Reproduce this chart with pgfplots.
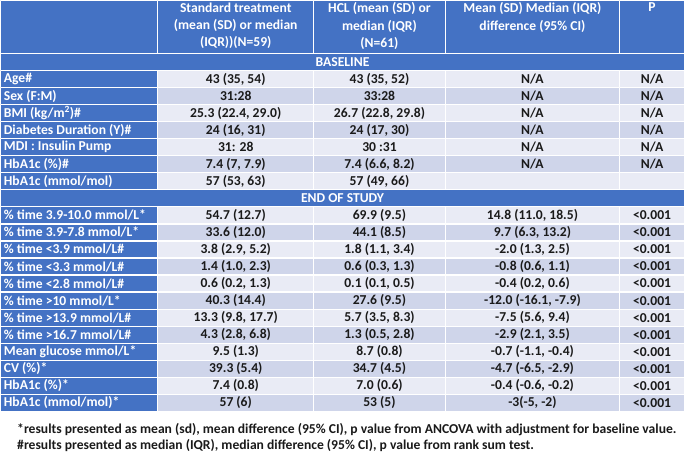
\documentclass[border=0pt]{standalone}
\usepackage{fontspec}
\setmainfont{Carlito}
\usepackage{pgfplots}
\pgfplotsset{compat=1.18}
\definecolor{hblue}{HTML}{4472C4}
\definecolor{rowA}{HTML}{E9EBF5}
\definecolor{rowB}{HTML}{CFD5EA}
\definecolor{txt}{HTML}{1A1A1A}
\tikzset{tc/.style={font=\fontsize{13.3}{16.8}\selectfont\bfseries,inner sep=0pt}}
\newcommand\rect[5]{\addplot[fill=#5,draw=white,line width=1.2bp,mark=none] coordinates {(#1,#3) (#2,#3) (#2,#4) (#1,#4) (#1,#3)};}
% \drow{top}{bottom}{fill}{label}{std}{hcl}{diff}{p}
\newcommand\drow[8]{%
  \rect{4}{157}{#1}{#2}{hblue}
  \rect{157}{309}{#1}{#2}{#3}
  \rect{309}{437}{#1}{#2}{#3}
  \rect{437}{607}{#1}{#2}{#3}
  \rect{607}{670}{#1}{#2}{#3}
  \node[tc,anchor=west,text=white] at (axis cs:7,{(#1+#2)/2}) {#4};
  \node[tc,text=txt] at (axis cs:233,{(#1+#2)/2}) {#5};
  \node[tc,text=txt] at (axis cs:373,{(#1+#2)/2}) {#6};
  \node[tc,text=txt] at (axis cs:522,{(#1+#2)/2}) {#7};
  \node[tc,text=txt] at (axis cs:638.5,{(#1+#2)/2}) {#8};
}
\newcommand\srow[3]{%
  \rect{4}{670}{#1}{#2}{hblue}
  \node[tc,text=white] at (axis cs:337,{(#1+#2)/2}) {#3};
}
\begin{document}
\begin{tikzpicture}
\begin{axis}[width=685bp,height=446bp,scale only axis,hide axis,
  xmin=0,xmax=685,ymin=0,ymax=446,y dir=reverse,clip=false]
% header
\rect{4}{157}{4}{55.5}{hblue}
\rect{157}{309}{4}{55.5}{hblue}
\rect{309}{437}{4}{55.5}{hblue}
\rect{437}{607}{4}{55.5}{hblue}
\rect{607}{670}{4}{55.5}{hblue}
\node[tc,anchor=north,align=center,text=white] at (axis cs:233,6) {Standard treatment\\(mean (SD) or median\\(IQR))(N=59)};
\node[tc,anchor=north,align=center,text=white] at (axis cs:373,6) {HCL (mean (SD) or\\median (IQR)\\(N=61)};
\node[tc,anchor=north,align=center,text=white] at (axis cs:522,6) {Mean (SD) Median (IQR)\\difference (95\% CI)};
\node[tc,anchor=north,align=center,text=white] at (axis cs:638.5,6) {P};
\srow{55.5}{72.1}{BASELINE}
\drow{72.1}{88.7}{rowA}{Age\#}{43 (35, 54)}{43 (35, 52)}{N/A}{N/A}
\drow{88.7}{105.3}{rowB}{Sex (F:M)}{31:28}{33:28}{N/A}{N/A}
\drow{105.3}{121.9}{rowA}{BMI (kg/m\textsuperscript{2})\#}{25.3 (22.4, 29.0)}{26.7 (22.8, 29.8)}{N/A}{N/A}
\drow{121.9}{138.5}{rowB}{Diabetes Duration (Y)\#}{24 (16, 31)}{24 (17, 30)}{N/A}{N/A}
\drow{138.5}{155.1}{rowA}{MDI : Insulin Pump}{31: 28}{30 :31}{N/A}{N/A}
\drow{155.1}{171.7}{rowB}{HbA1c (\%)\#}{7.4 (7, 7.9)}{7.4 (6.6, 8.2)}{N/A}{N/A}
\drow{171.7}{188.3}{rowA}{HbA1c (mmol/mol)}{57 (53, 63)}{57 (49, 66)}{}{}
\srow{188.3}{204.9}{END OF STUDY}
\drow{204.9}{221.5}{rowA}{\% time 3.9-10.0 mmol/L*}{54.7 (12.7)}{69.9 (9.5)}{14.8 (11.0, 18.5)}{<0.001}
\drow{221.5}{238.1}{rowB}{\% time 3.9-7.8 mmol/L*}{33.6 (12.0)}{44.1 (8.5)}{9.7 (6.3, 13.2)}{<0.001}
\drow{238.1}{254.7}{rowA}{\% time <3.9 mmol/L\#}{3.8 (2.9, 5.2)}{1.8 (1.1, 3.4)}{-2.0 (1.3, 2.5)}{<0.001}
\drow{254.7}{271.3}{rowB}{\% time <3.3 mmol/L\#}{1.4 (1.0, 2.3)}{0.6 (0.3, 1.3)}{-0.8 (0.6, 1.1)}{<0.001}
\drow{271.3}{287.9}{rowA}{\% time <2.8 mmol/L\#}{0.6 (0.2, 1.3)}{0.1 (0.1, 0.5)}{-0.4 (0.2, 0.6)}{<0.001}
\drow{287.9}{304.5}{rowB}{\% time >10 mmol/L*}{40.3 (14.4)}{27.6 (9.5)}{-12.0 (-16.1, -7.9)}{<0.001}
\drow{304.5}{321.1}{rowA}{\% time >13.9 mmol/L\#}{13.3 (9.8, 17.7)}{5.7 (3.5, 8.3)}{-7.5 (5.6, 9.4)}{<0.001}
\drow{321.1}{337.7}{rowB}{\% time >16.7 mmol/L\#}{4.3 (2.8, 6.8)}{1.3 (0.5, 2.8)}{-2.9 (2.1, 3.5)}{<0.001}
\drow{337.7}{354.3}{rowA}{Mean glucose mmol/L*}{9.5 (1.3)}{8.7 (0.8)}{-0.7 (-1.1, -0.4)}{<0.001}
\drow{354.3}{370.9}{rowB}{CV (\%)*}{39.3 (5.4)}{34.7 (4.5)}{-4.7 (-6.5, -2.9)}{<0.001}
\drow{370.9}{387.5}{rowA}{HbA1c (\%)*}{7.4 (0.8)}{7.0 (0.6)}{-0.4 (-0.6, -0.2)}{<0.001}
\drow{387.5}{404.1}{rowB}{HbA1c (mmol/mol)*}{57 (6)}{53 (5)}{-3(-5, -2)}{<0.001}
% footnotes
\node[tc,anchor=west,text=txt] at (axis cs:20,422) {*results presented as mean (sd), mean difference (95\% CI), p value from ANCOVA with adjustment for baseline value.};
\node[tc,anchor=west,text=txt] at (axis cs:20,437) {\#results presented as median (IQR), median difference (95\% CI), p value from rank sum test.};
\end{axis}
\end{tikzpicture}
\end{document}
